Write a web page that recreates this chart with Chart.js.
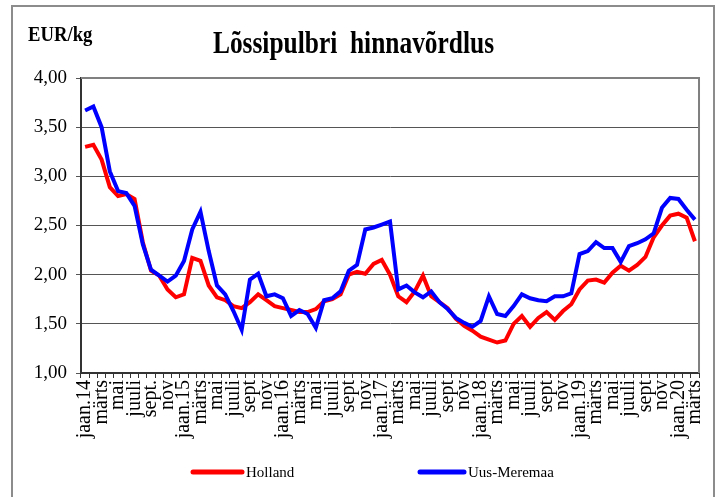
<!DOCTYPE html>
<html>
<head>
<meta charset="utf-8">
<script src="https://cdn.jsdelivr.net/npm/chart.js@4/dist/chart.umd.min.js"></script>
<style>
  html, body { margin: 0; padding: 0; background: #fff; }
  canvas { display: block; }
</style>
</head>
<body>
<canvas id="c" width="721" height="497"></canvas>
<script>
// ---- Data ----
const months = [
  'jaan.14','veebr','märts','apr','mai','juuni','juuli','aug','sept.','okt','nov','dets',
  'jaan.15','veebr','märts','apr','mai','juuni','juuli','aug','sept','okt','nov','dets',
  'jaan.16','veebr','märts','apr','mai','juuni','juuli','aug','sept','okt','nov','dets',
  'jaan.17','veebr','märts','apr','mai','juuni','juuli','aug','sept','okt','nov','dets',
  'jaan.18','veebr','märts','apr','mai','juuni','juuli','aug','sept','okt','nov','dets',
  'jaan.19','veebr','märts','apr','mai','juuni','juuli','aug','sept','okt','nov','dets',
  'jaan.20','veebr','märts'
];
const holland = [
  3.30,3.32,3.17,2.89,2.80,2.82,2.77,2.33,2.04,1.99,1.85,1.77,
  1.80,2.17,2.14,1.89,1.77,1.74,1.68,1.66,1.72,1.80,1.74,1.68,
  1.66,1.64,1.62,1.62,1.65,1.73,1.75,1.80,2.00,2.03,2.01,2.11,
  2.15,2.00,1.78,1.72,1.83,1.99,1.78,1.72,1.66,1.55,1.48,1.43,
  1.37,1.34,1.31,1.33,1.50,1.58,1.47,1.56,1.62,1.54,1.63,1.70,
  1.85,1.94,1.95,1.92,2.02,2.09,2.04,2.10,2.18,2.38,2.50,2.60,
  2.62,2.58,2.34
];
const uusMeremaa = [
  3.67,3.71,3.50,3.05,2.85,2.83,2.70,2.31,2.05,1.99,1.93,1.99,
  2.14,2.46,2.64,2.24,1.89,1.80,1.63,1.44,1.95,2.01,1.78,1.80,
  1.76,1.58,1.64,1.60,1.46,1.74,1.76,1.83,2.04,2.10,2.46,2.48,
  2.51,2.54,1.85,1.89,1.82,1.77,1.83,1.72,1.65,1.56,1.51,1.47,
  1.53,1.78,1.60,1.58,1.68,1.80,1.76,1.74,1.73,1.78,1.78,1.81,
  2.21,2.24,2.33,2.27,2.27,2.13,2.29,2.32,2.36,2.42,2.68,2.78,
  2.77,2.66,2.56
];
const seriesNames = ['Holland', 'Uus-Meremaa'];
const seriesColors = ['#ff0000', '#0000ff'];
const titleText = 'Lõssipulbri  hinnavõrdlus';
const unitText = 'EUR/kg';

const SERIF = "'Liberation Serif', 'Times New Roman', serif";

const decorPlugin = {
  id: 'decor',
  beforeDraw(chart) {
    const ctx = chart.ctx;
    ctx.save();
    ctx.fillStyle = '#fff';
    ctx.fillRect(0, 0, chart.width, chart.height);
    // outer frame
    ctx.strokeStyle = '#8c8c8c';
    ctx.lineWidth = 2;
    ctx.strokeRect(12, 6, 702, 520);
    ctx.restore();
  },
  beforeDatasetsDraw(chart) {
    const ctx = chart.ctx;
    const a = chart.chartArea;
    ctx.save();
    ctx.strokeStyle = '#808080';
    ctx.lineWidth = 2;
    ctx.beginPath();
    ctx.moveTo(a.left, a.top);
    ctx.lineTo(a.right, a.top);
    ctx.lineTo(a.right, a.bottom);
    ctx.stroke();
    ctx.restore();
  },
  afterDraw(chart) {
    const ctx = chart.ctx;
    ctx.save();
    ctx.fillStyle = '#000';
    // title (condensed look)
    ctx.font = "bold 31px " + SERIF;
    ctx.textBaseline = 'alphabetic';
    ctx.textAlign = 'center';
    ctx.save();
    ctx.translate(353.5, 53);
    ctx.scale(0.82, 1);
    ctx.fillText(titleText, 0, 0);
    ctx.restore();
    // unit label
    ctx.font = "bold 21px " + SERIF;
    ctx.textAlign = 'left';
    ctx.save();
    ctx.translate(28, 41);
    ctx.scale(0.89, 1);
    ctx.fillText(unitText, 0, 0);
    ctx.restore();
    // legend
    const items = [
      {x0: 193, x1: 242, tx: 246},
      {x0: 420, x1: 464, tx: 468}
    ];
    const ly = 472;
    ctx.font = "15px " + SERIF;
    ctx.textBaseline = 'middle';
    items.forEach((it, i) => {
      ctx.strokeStyle = seriesColors[i];
      ctx.lineWidth = 5;
      ctx.lineCap = 'round';
      ctx.beginPath();
      ctx.moveTo(it.x0, ly);
      ctx.lineTo(it.x1, ly);
      ctx.stroke();
      ctx.fillStyle = '#000';
      ctx.fillText(seriesNames[i], it.tx, ly + 1);
    });
    ctx.restore();
  }
};

new Chart(document.getElementById('c'), {
  type: 'line',
  data: {
    labels: months,
    datasets: [
      {
        label: seriesNames[0],
        data: holland,
        borderColor: seriesColors[0],
        backgroundColor: seriesColors[0],
        borderWidth: 4,
        pointRadius: 0,
        tension: 0,
        fill: false,
        order: 1
      },
      {
        label: seriesNames[1],
        data: uusMeremaa,
        borderColor: seriesColors[1],
        backgroundColor: seriesColors[1],
        borderWidth: 4,
        pointRadius: 0,
        tension: 0,
        fill: false,
        order: 0
      }
    ]
  },
  options: {
    responsive: false,
    animation: false,
    devicePixelRatio: 1,
    layout: { padding: { left: 12, right: 16, top: 78, bottom: 0 } },
    plugins: {
      legend: { display: false },
      title: { display: false },
      tooltip: { enabled: false }
    },
    scales: {
      x: {
        type: 'category',
        offset: true,
        grid: {
          offset: true,
          drawOnChartArea: false,
          drawTicks: true,
          tickLength: 5,
          color: '#333',
          lineWidth: 1
        },
        border: { display: true, color: '#333', width: 2 },
        ticks: {
          autoSkip: false,
          maxRotation: 90,
          minRotation: 90,
          padding: 2,
          color: '#000',
          font: { family: SERIF, size: 20 },
          callback: function(v, i) { return i % 2 === 0 ? months[i] : ''; }
        },
        afterFit: function(s) { s.height = 124; }
      },
      y: {
        min: 1,
        max: 4,
        ticks: {
          stepSize: 0.5,
          padding: 9,
          color: '#000',
          font: { family: SERIF, size: 19 },
          callback: function(v) { return Number(v).toFixed(2).replace('.', ','); }
        },
        grid: { color: '#555', lineWidth: 1, tickLength: 5, drawTicks: true },
        border: { display: true, color: '#333', width: 2 },
        afterFit: function(s) { s.width = 69; }
      }
    }
  },
  plugins: [decorPlugin]
});
</script>
</body>
</html>
